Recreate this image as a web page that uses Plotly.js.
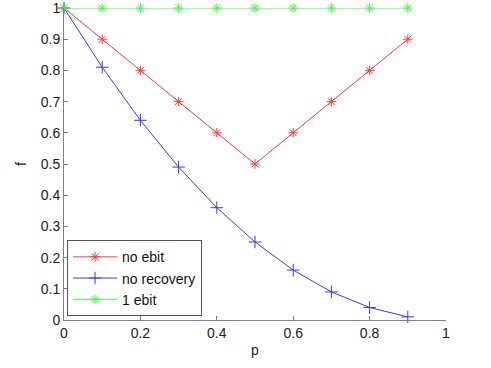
<!DOCTYPE html>
<html>
<head>
<meta charset="utf-8">
<script src="https://cdn.plot.ly/plotly-3.0.1.min.js"></script>
<style>
  html, body { margin: 0; padding: 0; background: #fff; }
  #chart { width: 491px; height: 368px; }
</style>
</head>
<body>
<div id="chart"></div>
<script>
const p = [0, 0.1, 0.2, 0.3, 0.4, 0.5, 0.6, 0.7, 0.8, 0.9];
const noEbit = [1, 0.9, 0.8, 0.7, 0.6, 0.5, 0.6, 0.7, 0.8, 0.9];
const noRecovery = [1, 0.81, 0.64, 0.49, 0.36, 0.25, 0.16, 0.09, 0.04, 0.01];
const oneEbit = [1, 1, 1, 1, 1, 1, 1, 1, 1, 1];

const xTicks = [0, 0.2, 0.4, 0.6, 0.8, 1];
const xTickText = ["0", "0.2", "0.4", "0.6", "0.8", "1"];
const yTicks = [0, 0.1, 0.2, 0.3, 0.4, 0.5, 0.6, 0.7, 0.8, 0.9, 1];
const yTickText = ["0", "0.1", "0.2", "0.3", "0.4", "0.5", "0.6", "0.7", "0.8", "0.9", "1"];

function makeTrace(y, name, color, symbol, size) {
    return {
        x: p,
        y: y,
        name: name,
        type: "scatter",
        mode: "lines+markers",
        cliponaxis: false,
        line: {color: color, width: 1},
        marker: {symbol: symbol, size: size, color: color, line: {color: color, width: 1}}
    };
}

const traces = [
    makeTrace(noEbit, "no ebit", "#ff3a3a", "asterisk-open", 8),
    makeTrace(noRecovery, "no recovery", "#3a3aff", "cross-thin-open", 9),
    makeTrace(oneEbit, "1 ebit", "#3aff3a", "asterisk-open", 8)
];

const axisStyle = {
    showgrid: false,
    zeroline: false,
    showline: true,
    linecolor: "#808080",
    linewidth: 1,
    ticks: "inside",
    ticklen: 4,
    tickcolor: "#808080",
    tickmode: "array",
    ticklabeloverflow: "allow",
    tickfont: {family: "Liberation Sans, Arial, sans-serif", size: 14, color: "#222"}
};

const layout = {
    width: 491,
    height: 368,
    margin: {l: 64, r: 45, t: 8, b: 48},
    paper_bgcolor: "#fff",
    plot_bgcolor: "#fff",
    font: {family: "Liberation Sans, Arial, sans-serif", size: 14, color: "#222"},
    xaxis: Object.assign({}, axisStyle, {
        range: [0, 1],
        tickvals: xTicks,
        ticktext: xTickText,
        title: {text: "p", standoff: 5, font: {size: 14}}
    }),
    yaxis: Object.assign({}, axisStyle, {
        range: [0, 1],
        tickvals: yTicks,
        ticktext: yTickText,
        title: {text: "f", standoff: 10, font: {size: 14}}
    }),
    showlegend: true,
    legend: {
        x: 0.008,
        y: 0.012,
        xanchor: "left",
        yanchor: "bottom",
        bgcolor: "#fff",
        bordercolor: "#555",
        borderwidth: 1,
        font: {size: 14, color: "#111"},
        itemwidth: 44,
        tracegroupgap: 0
    }
};

Plotly.newPlot("chart", traces, layout, {displayModeBar: false, staticPlot: true});
</script>
</body>
</html>
